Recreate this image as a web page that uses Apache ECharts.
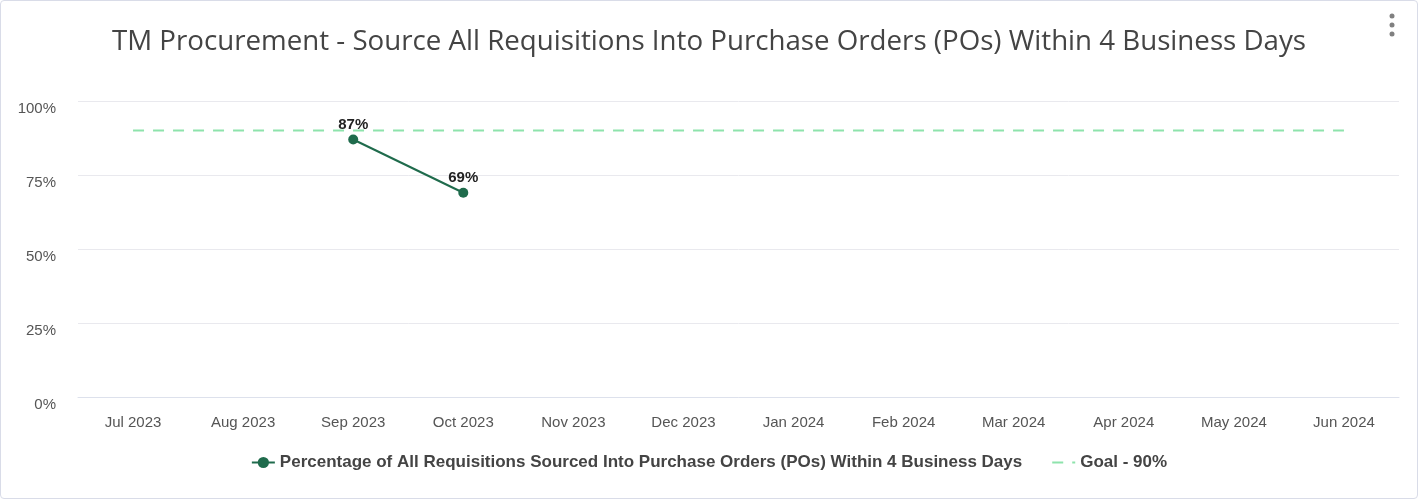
<!DOCTYPE html>
<html>
<head>
<meta charset="utf-8">
<script src="https://cdn.jsdelivr.net/npm/echarts@6/dist/echarts.min.js"></script>
<style>
  html, body { margin: 0; padding: 0; background: #fff; }
  #chart {
    position: absolute; left: 0; top: 0;
    width: 1416px; height: 497px;
    border: 1px solid #d9dce8; border-radius: 4px;
  }
</style>
</head>
<body>
<div id="chart"></div>
<script>
// months on the x axis
var months = ['Jul 2023', 'Aug 2023', 'Sep 2023', 'Oct 2023', 'Nov 2023', 'Dec 2023',
              'Jan 2024', 'Feb 2024', 'Mar 2024', 'Apr 2024', 'May 2024', 'Jun 2024'];
// actual percentages, only Sep/Oct reported
var sourced = [null, null, 87, 69, null, null, null, null, null, null, null, null];
// goal line
var goal = [90, 90, 90, 90, 90, 90, 90, 90, 90, 90, 90, 90];
var yTicks = [0, 25, 50, 75, 100];

var seriesName = 'Percentage of All Requisitions Sourced Into Purchase Orders (POs) Within 4 Business Days';
var goalName = 'Goal - 90%';

var myChart = echarts.init(document.getElementById('chart'));
var option = {
  animation: false,
  title: {
    text: 'TM Procurement - Source All Requisitions Into Purchase Orders (POs) Within 4 Business Days',
    left: 'center',
    top: 22,
    textStyle: {
      fontFamily: 'Open Sans',
      fontSize: 27.7,
      fontWeight: 'normal',
      color: '#444'
    }
  },
  graphic: [
    { type: 'circle', shape: { cx: 1391, cy: 15, r: 2.5 }, style: { fill: '#808080' } },
    { type: 'circle', shape: { cx: 1391, cy: 24, r: 2.5 }, style: { fill: '#808080' } },
    { type: 'circle', shape: { cx: 1391, cy: 33, r: 2.5 }, style: { fill: '#808080' } }
  ],
  legend: {
    top: 448,
    left: 'center',
    itemGap: 29,
    itemWidth: 23,
    itemHeight: 14,
    textStyle: { fontFamily: 'Liberation Sans', fontSize: 17, fontWeight: 'bold', color: '#444' },
    data: [
      { name: seriesName },
      { name: goalName, itemStyle: { color: 'rgba(0,0,0,0)', borderColor: 'rgba(0,0,0,0)' } }
    ]
  },
  grid: { left: 77, right: 18, top: 100, bottom: 101 },
  xAxis: {
    type: 'category',
    data: months,
    boundaryGap: true,
    axisLine: { lineStyle: { color: '#dde1ec' } },
    axisTick: { show: false },
    axisLabel: { color: '#555', fontFamily: 'Liberation Sans', fontSize: 15, margin: 18 }
  },
  yAxis: {
    type: 'value',
    min: yTicks[0],
    max: yTicks[yTicks.length - 1],
    interval: 25,
    axisLine: { show: false },
    axisTick: { show: false },
    splitLine: { lineStyle: { color: '#e9e9ee' } },
    axisLabel: {
      color: '#555', fontFamily: 'Liberation Sans', fontSize: 15, margin: 22,
      verticalAlign: 'top',
      formatter: '{value}%'
    }
  },
  series: [
    {
      name: seriesName,
      type: 'line',
      data: sourced,
      connectNulls: false,
      symbol: 'circle',
      symbolSize: 10,
      itemStyle: { color: '#1f6b4c' },
      lineStyle: { color: '#1f6b4c', width: 2 },
      label: {
        show: true,
        position: 'top',
        distance: 2,
        formatter: '{c}%',
        color: '#222',
        fontWeight: 'bold',
        fontFamily: 'Liberation Sans',
        fontSize: 15
      },
      z: 3
    },
    {
      name: goalName,
      type: 'line',
      data: goal,
      symbol: 'none',
      itemStyle: { color: '#8ee3ac' },
      lineStyle: { color: '#8ee3ac', width: 2, type: [11, 9] },
      z: 2
    }
  ]
};
myChart.setOption(option);
window.addEventListener('resize', function () { myChart.resize(); });
</script>
</body>
</html>
